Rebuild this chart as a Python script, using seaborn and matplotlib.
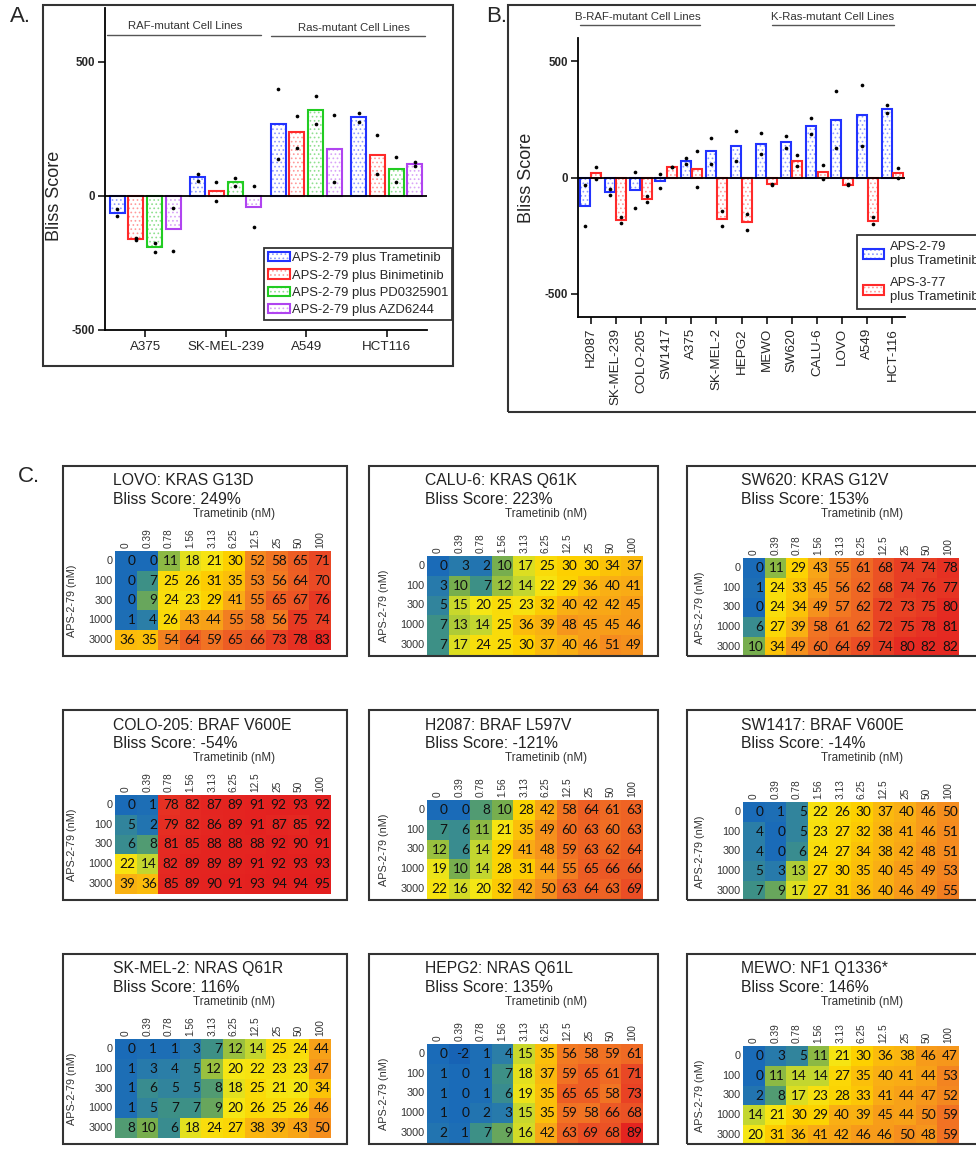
import numpy as np
import pandas as pd
import matplotlib
matplotlib.use('Agg')
import matplotlib.pyplot as plt
import seaborn as sns
from matplotlib.patches import Rectangle, Patch
from matplotlib.lines import Line2D
from matplotlib.colors import LinearSegmentedColormap, to_rgba

# ---------------- data: panel A ----------------
a_lines = ['A375', 'SK-MEL-239', 'A549', 'HCT116']
a_treats = ['APS-2-79 plus Trametinib', 'APS-2-79 plus Binimetinib',
            'APS-2-79 plus PD0325901', 'APS-2-79 plus AZD6244']
a_tram = [[-50, -75], [83, 55], [397, 136], [308, 276]]
a_bini = [[-159, -165], [52, -19], [297, 177], [225, 81]]
a_pd03 = [[-174, -211], [65, 35], [372, 267], [146, 51]]
a_azd = [[-44, -206], [35, -116], [301, 51], [127, 112]]

# ---------------- data: panel B ----------------
b_lines = ['H2087', 'SK-MEL-239', 'COLO-205', 'SW1417', 'A375', 'SK-MEL-2', 'HEPG2',
           'MEWO', 'SW620', 'CALU-6', 'LOVO', 'A549', 'HCT-116']
b_treats = ['APS-2-79\nplus Trametinib', 'APS-3-77\nplus Trametinib']
b_aps279 = [[-33, -209], [-50, -75], [24, -132], [17, -45], [82, 56], [172, 60], [201, 69],
            [192, 100], [177, 129], [257, 189], [372, 126], [398, 136], [310, 277]]
b_aps377 = [[45, -5], [-168, -196], [-79, -106], [47, 47], [115, -39], [-145, -210],
            [-159, -226], [-31, -27], [95, 49], [52, -6], [-34, -30], [-168, -202], [40, -2]]

# ---------------- data: panel C heatmaps ----------------
hm_rows = ['0', '100', '300', '1000', '3000']
hm_cols = ['0', '0.39', '0.78', '1.56', '3.13', '6.25', '12.5', '25', '50', '100']
hm_titles = ['LOVO: KRAS G13D', 'CALU-6: KRAS Q61K', 'SW620: KRAS G12V',
             'COLO-205: BRAF V600E', 'H2087: BRAF L597V', 'SW1417: BRAF V600E',
             'SK-MEL-2: NRAS Q61R', 'HEPG2: NRAS Q61L', 'MEWO: NF1 Q1336*']
hm_bliss = ['249%', '223%', '153%', '-54%', '-121%', '-14%', '116%', '135%', '146%']
hm_lovo = [[0, 0, 11, 18, 21, 30, 52, 58, 65, 71],
           [0, 7, 25, 26, 31, 35, 53, 56, 64, 70],
           [0, 9, 24, 23, 29, 41, 55, 65, 67, 76],
           [1, 4, 26, 43, 44, 55, 58, 56, 75, 74],
           [36, 35, 54, 64, 59, 65, 66, 73, 78, 83]]
hm_calu6 = [[0, 3, 2, 10, 17, 25, 30, 30, 34, 37],
            [3, 10, 7, 12, 14, 22, 29, 36, 40, 41],
            [5, 15, 20, 25, 23, 32, 40, 42, 42, 45],
            [7, 13, 14, 25, 36, 39, 48, 45, 45, 46],
            [7, 17, 24, 25, 30, 37, 40, 46, 51, 49]]
hm_sw620 = [[0, 11, 29, 43, 55, 61, 68, 74, 74, 78],
            [1, 24, 33, 45, 56, 62, 68, 74, 76, 77],
            [0, 24, 34, 49, 57, 62, 72, 73, 75, 80],
            [6, 27, 39, 58, 61, 62, 72, 75, 78, 81],
            [10, 34, 49, 60, 64, 69, 74, 80, 82, 82]]
hm_colo205 = [[0, 1, 78, 82, 87, 89, 91, 92, 93, 92],
              [5, 2, 79, 82, 86, 89, 91, 87, 85, 92],
              [6, 8, 81, 85, 88, 88, 88, 92, 90, 91],
              [22, 14, 82, 89, 89, 89, 91, 92, 93, 93],
              [39, 36, 85, 89, 90, 91, 93, 94, 94, 95]]
hm_h2087 = [[0, 0, 8, 10, 28, 42, 58, 64, 61, 63],
            [7, 6, 11, 21, 35, 49, 60, 63, 60, 63],
            [12, 6, 14, 29, 41, 48, 59, 63, 62, 64],
            [19, 10, 14, 28, 31, 44, 55, 65, 66, 66],
            [22, 16, 20, 32, 42, 50, 63, 64, 63, 69]]
hm_sw1417 = [[0, 1, 5, 22, 26, 30, 37, 40, 46, 50],
             [4, 0, 5, 23, 27, 32, 38, 41, 46, 51],
             [4, 0, 6, 24, 27, 34, 38, 42, 48, 51],
             [5, 3, 13, 27, 30, 35, 40, 45, 49, 53],
             [7, 9, 17, 27, 31, 36, 40, 46, 49, 55]]
hm_skmel2 = [[0, 1, 1, 3, 7, 12, 14, 25, 24, 44],
             [1, 3, 4, 5, 12, 20, 22, 23, 23, 47],
             [1, 6, 5, 5, 8, 18, 25, 21, 20, 34],
             [1, 5, 7, 7, 9, 20, 26, 25, 26, 46],
             [8, 10, 6, 18, 24, 27, 38, 39, 43, 50]]
hm_hepg2 = [[0, -2, 1, 4, 15, 35, 56, 58, 59, 61],
            [1, 0, 1, 7, 18, 37, 59, 65, 61, 71],
            [1, 0, 1, 6, 19, 35, 65, 65, 58, 73],
            [1, 0, 2, 3, 15, 35, 59, 58, 66, 68],
            [2, 1, 7, 9, 16, 42, 63, 69, 68, 89]]
hm_mewo = [[0, 3, 5, 11, 21, 30, 36, 38, 46, 47],
           [0, 11, 14, 14, 27, 35, 40, 41, 44, 53],
           [2, 8, 17, 23, 28, 33, 41, 44, 47, 52],
           [14, 21, 30, 29, 40, 39, 45, 44, 50, 59],
           [20, 31, 36, 41, 42, 46, 46, 50, 48, 59]]
hm_data = [hm_lovo, hm_calu6, hm_sw620, hm_colo205, hm_h2087, hm_sw1417,
           hm_skmel2, hm_hepg2, hm_mewo]

# ---------------- styling ----------------
W, H = 976, 1153
sns.set_style('white')
plt.rcParams['font.family'] = ['Liberation Sans', 'DejaVu Sans']
plt.rcParams['hatch.linewidth'] = 0.7

a_colors = ['#2233ff', '#ff2a2a', '#22cc22', '#b044f0']
a_hatch = ['#8f9bff', '#ff9a9a', '#8fe08f', '#d9a4f7']
b_colors = ['#2233ff', '#ff2a2a']
b_hatch = ['#8f9bff', '#ff9a9a']

cm_pos = [-2, 0, 4, 7, 10, 14, 20, 30, 40, 50, 60, 70, 80, 95]
cm_col = ['#1763b5', '#1a6bb8', '#2c7fa6', '#3f9283', '#7bb04a', '#c3d62f', '#f5e614',
          '#fdd000', '#f9ae14', '#f58e1e', '#f06e24', '#ea4b25', '#e52b22', '#e31f1f']
cmap = LinearSegmentedColormap.from_list(
    'bliss', [((p - cm_pos[0]) / (cm_pos[-1] - cm_pos[0]), c) for p, c in zip(cm_pos, cm_col)])


def rect(l, t, r, b):
    return [l / W, 1 - b / H, (r - l) / W, (b - t) / H]


def fx(x):
    return x / W


def fy(y):
    return 1 - y / H


def box(l, t, r, b, lw=1.5):
    fig.add_artist(Rectangle((fx(l), fy(b)), (r - l) / W, (b - t) / H, transform=fig.transFigure,
                             fill=False, lw=lw, ec='#333333'))


def hline(x0, x1, y, lw=1.0):
    fig.add_artist(Line2D([fx(x0), fx(x1)], [fy(y), fy(y)], transform=fig.transFigure,
                          color='#555555', lw=lw))


def style_bars(ax, colors, hatchcols, lines, reps_list):
    for i, cont in enumerate(ax.containers):
        for bar in cont:
            bar.set_facecolor('white')
            bar.set_edgecolor(colors[i])
            bar.set_linewidth(1.5)
            bar.set_hatch('....')
            if hasattr(bar, 'set_hatchcolor'):
                bar.set_hatchcolor(hatchcols[i])
            else:
                bar._hatch_color = to_rgba(hatchcols[i])
            xc = bar.get_x() + bar.get_width() / 2
            j = int(round(xc))
            ys = reps_list[i][j]
            ax.scatter([xc] * len(ys), ys, s=7, color='black', zorder=5, linewidths=0)


def legend_handles(colors, hatchcols, labels):
    hs = []
    for c, hc, lab in zip(colors, hatchcols, labels):
        p = Patch(facecolor='white', edgecolor=c, hatch='....', lw=1.5, label=lab)
        p._hatch_color = to_rgba(hc)
        hs.append(p)
    return hs


fig = plt.figure(figsize=(W / 100, H / 100), dpi=100)

# ================= Panel A =================
recA = []
for t, reps in zip(a_treats, [a_tram, a_bini, a_pd03, a_azd]):
    for line, r in zip(a_lines, reps):
        for v in r:
            recA.append({'line': line, 'treat': t, 'score': v})
dfA = pd.DataFrame(recA)
axA = fig.add_axes(rect(105, 8, 427, 330))
sns.barplot(data=dfA, x='line', y='score', hue='treat', order=a_lines, hue_order=a_treats,
            palette=a_colors, errorbar=None, width=0.925, gap=0.2, legend=False, ax=axA)
style_bars(axA, a_colors, a_hatch, a_lines, [a_tram, a_bini, a_pd03, a_azd])
axA.axhline(0, color='black', lw=1.3, zorder=4)
axA.set_xlim(-0.5, 3.5)
axA.set_ylim(-500, 700)
axA.set_yticks([-500, 0, 500])
axA.set_yticklabels(['-500', '0', '500'], fontweight='bold', fontsize=8.3)
axA.tick_params(axis='x', labelsize=9.6, length=5, width=1.3, direction='out', bottom=True, pad=3)
axA.tick_params(axis='y', length=5, width=1.3, direction='out', left=True, pad=2)
axA.set_xlabel('')
axA.set_ylabel('Bliss Score', fontsize=13)
axA.yaxis.set_label_coords(-(105 - 63) / 322, (330 - 196) / 322)
for s in ['top', 'right']:
    axA.spines[s].set_visible(False)
for s in ['left', 'bottom']:
    axA.spines[s].set_linewidth(1.3)
    axA.spines[s].set_color('black')
legA = axA.legend(handles=legend_handles(a_colors, a_hatch, a_treats), loc='upper left',
                  bbox_to_anchor=(fx(264), fy(248)), bbox_transform=fig.transFigure,
                  borderaxespad=0, fontsize=9.4, handlelength=1.7, handleheight=0.75,
                  labelspacing=0.38, handletextpad=0.15, borderpad=0.3, fancybox=False,
                  framealpha=1, edgecolor='#333333')
legA.get_frame().set_linewidth(1.3)

fig.text(fx(185), fy(26), 'RAF-mutant Cell Lines', fontsize=8.2, ha='center', va='center', color='#333333')
hline(107, 261, 35)
fig.text(fx(354), fy(28), 'Ras-mutant Cell Lines', fontsize=8.2, ha='center', va='center', color='#333333')
hline(271, 425, 36)
box(43, 5, 453, 366)
fig.text(fx(10), fy(17), 'A.', fontsize=16, ha='left', va='center')

# ================= Panel B =================
recB = []
for t, reps in zip(b_treats, [b_aps279, b_aps377]):
    for line, r in zip(b_lines, reps):
        for v in r:
            recB.append({'line': line, 'treat': t, 'score': v})
dfB = pd.DataFrame(recB)
axB = fig.add_axes(rect(578, 38, 905, 317))
sns.barplot(data=dfB, x='line', y='score', hue='treat', order=b_lines, hue_order=b_treats,
            palette=b_colors, errorbar=None, width=0.9, gap=0.12, legend=False, ax=axB)
style_bars(axB, b_colors, b_hatch, b_lines, [b_aps279, b_aps377])
axB.axhline(0, color='black', lw=1.3, zorder=4)
axB.set_xlim(-0.5, 12.5)
axB.set_ylim(-600, 600)
axB.set_yticks([-500, 0, 500])
axB.set_yticklabels(['-500', '0', '500'], fontweight='bold', fontsize=8.3)
axB.tick_params(axis='x', labelsize=9.6, length=5, width=1.3, direction='out', bottom=True,
                labelrotation=90, pad=3)
axB.tick_params(axis='y', length=5, width=1.3, direction='out', left=True, pad=2)
axB.set_xlabel('')
axB.set_ylabel('Bliss Score', fontsize=13)
axB.yaxis.set_label_coords(-(578 - 535) / 327, (317 - 178) / 279)
for s in ['top', 'right']:
    axB.spines[s].set_visible(False)
for s in ['left', 'bottom']:
    axB.spines[s].set_linewidth(1.3)
    axB.spines[s].set_color('black')
legB = axB.legend(handles=legend_handles(b_colors, b_hatch, b_treats), loc='upper left',
                  bbox_to_anchor=(fx(857), fy(235)), bbox_transform=fig.transFigure,
                  borderaxespad=0, fontsize=9.4, handlelength=1.6, handleheight=0.85,
                  labelspacing=0.8, handletextpad=0.5, borderpad=0.45, fancybox=False,
                  framealpha=1, edgecolor='#333333')
legB.get_frame().set_linewidth(1.3)
fig.text(fx(638), fy(17), 'B-RAF-mutant Cell Lines', fontsize=8.2, ha='center', va='center', color='#333333')
hline(580, 700, 25)
fig.text(fx(833), fy(17), 'K-Ras-mutant Cell Lines', fontsize=8.2, ha='center', va='center', color='#333333')
hline(772, 894, 25)
box(508, 5, 995, 412)
fig.text(fx(486), fy(17), 'B.', fontsize=16, ha='left', va='center')

# ================= Panel C =================
fig.text(fx(18), fy(477), 'C.', fontsize=16, ha='left', va='center')
box_l = [63, 369, 687]
box_r = [347, 658, 995]
grid_l = [115, 427, 743]
grid_top0 = [551, 556, 558]
row_off = [0, 244, 488]
box_top0 = 466
for k in range(9):
    r, c = divmod(k, 3)
    bt = box_top0 + row_off[r]
    box(box_l[c], bt, box_r[c], bt + 190)
    gt = grid_top0[c] + row_off[r]
    gl = grid_l[c]
    ax = fig.add_axes(rect(gl, gt, gl + 216, gt + 99))
    df = pd.DataFrame(hm_data[k], index=hm_rows, columns=hm_cols)
    sns.heatmap(df, ax=ax, cmap=cmap, vmin=cm_pos[0], vmax=cm_pos[-1], cbar=False,
                annot=True, fmt='d',
                annot_kws={'fontsize': 9.8, 'family': ['Lato', 'DejaVu Sans'], 'color': '#111111'})
    for t in ax.texts:
        x, y = t.get_position()
        t.set_position((x + 0.45, y))
        t.set_ha('right')
    ax.xaxis.tick_top()
    ax.tick_params(axis='both', length=0, pad=2)
    ax.set_xticklabels(hm_cols, rotation=90, fontsize=7.3, color='#333333')
    ax.set_yticklabels(hm_rows, rotation=0, fontsize=7.8, color='#333333')
    ax.set_xlabel('')
    ax.set_ylabel('APS-2-79 (nM)', fontsize=7.8, color='#333333')
    ax.yaxis.set_label_coords(-38 / 216, 0.5)
    fig.text(fx(gl - 2), fy(bt + 15), hm_titles[k], fontsize=11.3, ha='left', va='center', color='#222222')
    fig.text(fx(gl - 2), fy(bt + 34), 'Bliss Score: ' + hm_bliss[k], fontsize=11.3, ha='left',
             va='center', color='#222222')
    fig.text(fx(gl + 119), fy(bt + 48), 'Trametinib (nM)', fontsize=8.4, ha='center', va='center',
             color='#333333')

fig.savefig('out.png', dpi=100, facecolor='white')
